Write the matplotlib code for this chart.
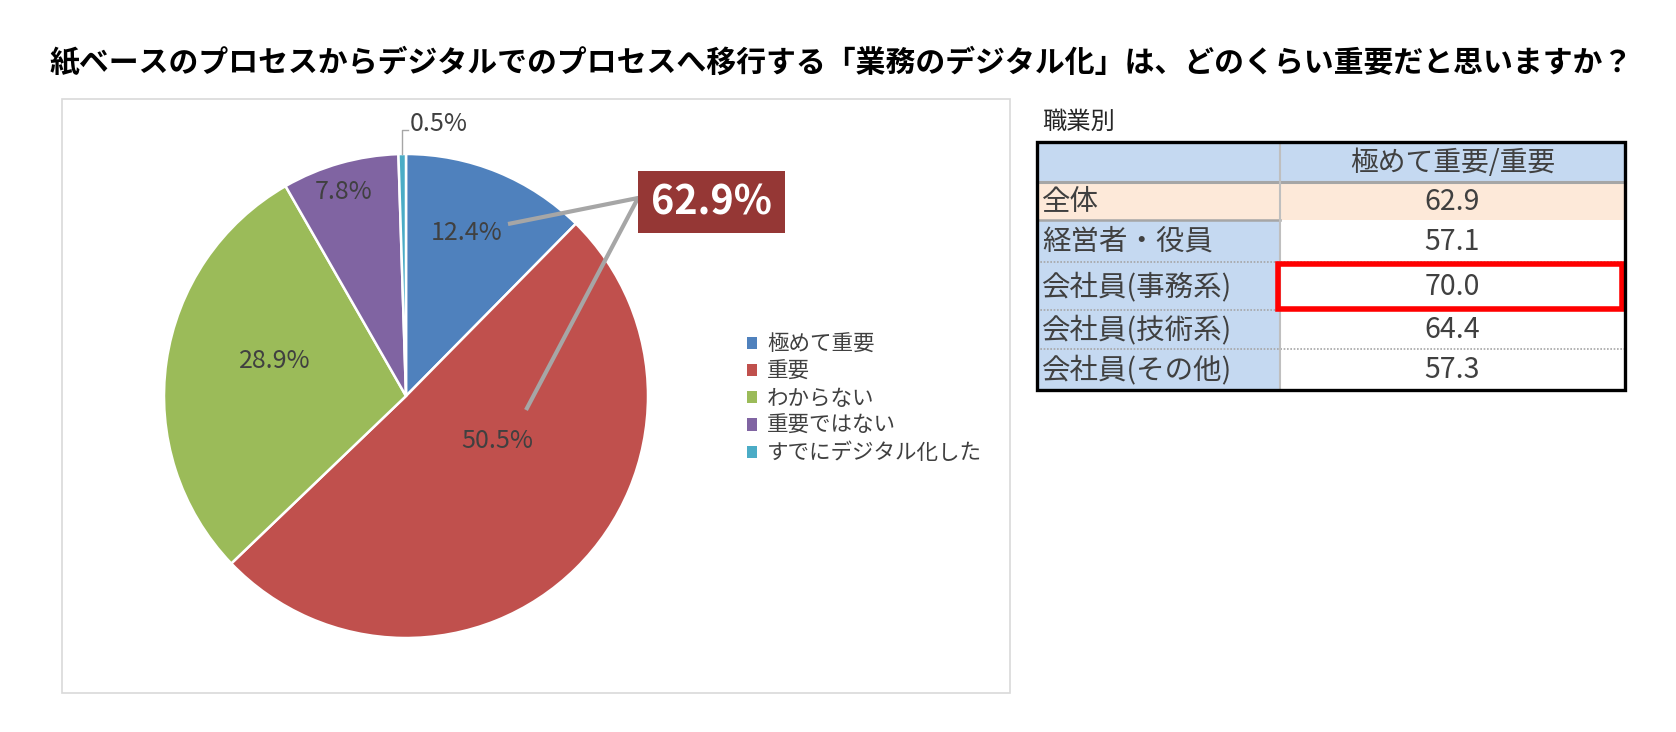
import matplotlib
matplotlib.use("Agg")
import matplotlib.pyplot as plt
from matplotlib.patches import Rectangle, Patch
import numpy as np

plt.rcParams['font.family'] = ['Noto Sans CJK JP', 'DejaVu Sans']

# ---------------- data ----------------
title = "紙ベースのプロセスからデジタルでのプロセスへ移行する「業務のデジタル化」は、どのくらい重要だと思いますか？"
categories = ["極めて重要", "重要", "わからない", "重要ではない", "すでにデジタル化した"]
values = [12.4, 50.5, 28.9, 7.8, 0.5]
combined_label = "62.9%"
table_title = "職業別"
table_header = "極めて重要/重要"
table_rows = ["全体", "経営者・役員", "会社員(事務系)", "会社員(技術系)", "会社員(その他)"]
table_values = [62.9, 57.1, 70.0, 64.4, 57.3]
highlight_row = 2

# ---------------- style ----------------
colors = ["#4F81BD", "#C0504D", "#9BBB59", "#8064A2", "#4BACC6"]
W, H = 1676, 732
fig = plt.figure(figsize=(W / 100, H / 100), dpi=100)

# ---------------- pie ----------------
cx, cy, R = 406, 396, 242
half = 260
ax = fig.add_axes([(cx - half) / W, (H - cy - half) / H, 2 * half / W, 2 * half / H])
ax.set_zorder(1)
wedges, _ = ax.pie(values, colors=colors, startangle=90, counterclock=False,
                   radius=R, wedgeprops=dict(edgecolor="white", linewidth=1.8))
ax.set_xlim(-half, half)
ax.set_ylim(-half, half)
ax.set_aspect("equal")
ax.axis("off")

# overlay axes in pixel coordinates (on top of the pie)
ov = fig.add_axes([0, 0, 1, 1])
ov.set_zorder(2)
ov.patch.set_alpha(0)
ov.set_xlim(0, W)
ov.set_ylim(H, 0)
ov.axis("off")

# title
ov.text(841, 62, title, ha="center", va="center", fontsize=21.5,
        fontweight="bold", color="black")

# chart frame
ov.add_patch(Rectangle((62, 99), 948, 594, fill=False, ec="#D9D9D9", lw=1.2))

# label placement (polar: fraction of radius, angle in degrees)
label_polar = [(0.72, 69.5), (0.42, -26.0), (0.56, 165.0), (0.88, 107.0), None]
for i, (w, v) in enumerate(zip(wedges, values)):
    if label_polar[i] is None:
        continue
    r, a = label_polar[i]
    x = r * R * np.cos(np.radians(a))
    y = r * R * np.sin(np.radians(a))
    ax.text(x, y, f"{v:.1f}%", ha="center", va="center", fontsize=18,
            color="#404040", zorder=5)

# small slice label with leader
w = wedges[4]
mid = np.radians((w.theta1 + w.theta2) / 2)
sx, sy = R * np.cos(mid), R * np.sin(mid)
ax.plot([sx, sx, sx + 6], [sy, sy + 24, sy + 24], color="#A6A6A6", lw=1.0,
        clip_on=False)
ax.text(sx + 8, sy + 30, f"{values[4]:.1f}%", ha="left", va="center",
        fontsize=18, color="#404040")

# combined 62.9% box with leader lines
ov.plot([508, 638, 526], [224, 198, 410], color="#A6A6A6", lw=3.0,
        solid_capstyle="butt", zorder=3)
ov.add_patch(Rectangle((638, 171), 147, 62, fc="#953735", ec="none", zorder=4))
ov.text(711.5, 203, combined_label, ha="center", va="center", fontsize=28.5,
        fontweight="bold", color="white", zorder=5)

# legend
handles = [Patch(facecolor=c, edgecolor="none") for c in colors]
leg = fig.legend(handles, categories, loc="upper left",
                 bbox_to_anchor=(738 / W, 1 - 325 / H), frameon=False,
                 fontsize=15.5, handlelength=0.5, handleheight=0.5,
                 handletextpad=0.45, labelspacing=0.24, borderaxespad=0)
for t in leg.get_texts():
    t.set_color("#404040")

# ---------------- table ----------------
tx0, tx1, tdiv = 1037, 1625, 1280
row_edges = [142, 182, 220, 262, 310, 349, 390]
blue = "#C5D9F1"
peach = "#FDE9D9"

ov.text(1042, 122, table_title, ha="left", va="center", fontsize=17.5,
        color="#262626")

# header row
ov.add_patch(Rectangle((tx0, row_edges[0]), tx1 - tx0, row_edges[1] - row_edges[0],
                       fc=blue, ec="none"))
ov.text((tdiv + tx1) / 2, (row_edges[0] + row_edges[1]) / 2 + 1, table_header,
        ha="center", va="center", fontsize=20, color="#404040")

for i, (lab, val) in enumerate(zip(table_rows, table_values)):
    y0, y1 = row_edges[i + 1], row_edges[i + 2]
    left_fc = peach if i == 0 else blue
    right_fc = peach if i == 0 else "white"
    ov.add_patch(Rectangle((tx0, y0), tdiv - tx0, y1 - y0, fc=left_fc, ec="none"))
    ov.add_patch(Rectangle((tdiv, y0), tx1 - tdiv, y1 - y0, fc=right_fc, ec="none"))
    ov.text(tx0 + 5, (y0 + y1) / 2 + 1, lab, ha="left", va="center",
            fontsize=20.5, color="#404040")
    ov.text((tdiv + tx1) / 2, (y0 + y1) / 2 + 1, f"{val:.1f}", ha="center",
            va="center", fontsize=20.5, color="#404040")

# separators
ov.plot([tx0, tx1], [row_edges[1], row_edges[1]], color="#A6A6A6", lw=2.2)
ov.plot([tx0, tdiv], [row_edges[2], row_edges[2]], color="#A6A6A6", lw=1.8)
for y in row_edges[3:6]:
    ov.plot([tx0, tx1], [y, y], color="#A6A6A6", lw=1.2, ls=(0, (1, 1)))
ov.plot([tdiv, tdiv], [row_edges[0], row_edges[-1]], color="#BFBFBF", lw=1.5)

# highlight box
hy0, hy1 = row_edges[highlight_row + 1], row_edges[highlight_row + 2]
ov.add_patch(Rectangle((tdiv - 2, hy0 + 2), tx1 - tdiv - 1, hy1 - hy0 - 3,
                       fill=False, ec="#FF0000", lw=4, zorder=6))

# outer border
ov.add_patch(Rectangle((tx0, row_edges[0]), tx1 - tx0, row_edges[-1] - row_edges[0],
                       fill=False, ec="black", lw=2.4, zorder=7))

fig.savefig("out.png", dpi=100, facecolor="white")
